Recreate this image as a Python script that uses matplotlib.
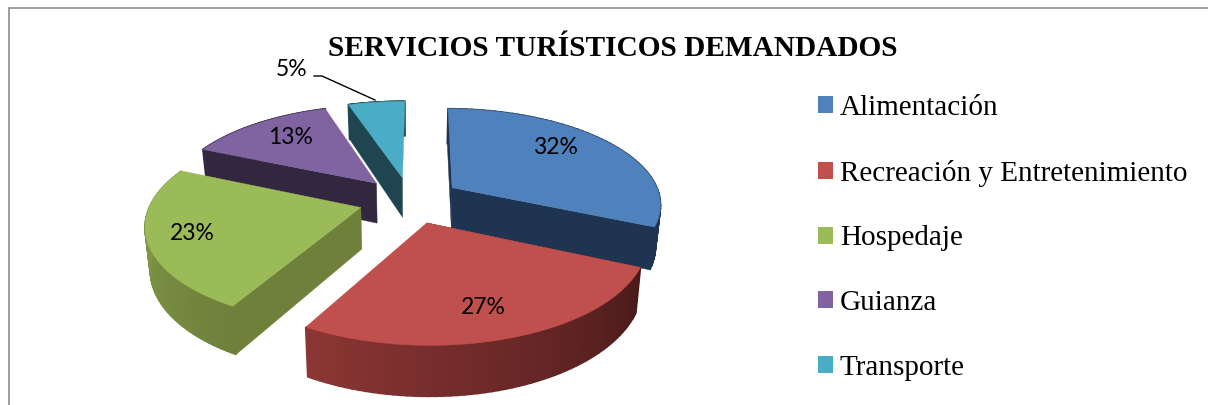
import numpy as np
import matplotlib
matplotlib.use("Agg")
import matplotlib.pyplot as plt
from matplotlib.patches import Polygon, Patch

categorias = ["Alimentación", "Recreación y Entretenimiento", "Hospedaje", "Guianza", "Transporte"]
valores = [31.5, 26.5, 23.4, 13.4, 5.2]
etiquetas = ["32%", "27%", "23%", "13%", "5%"]
colores = ["#4f81bd", "#c0504d", "#9bbb59", "#8064a2", "#4bacc6"]
cara_corte = ["#1f3450", "#4a1a1a", "#6e803a", "#33263f", "#1f4650"]
pared_ini = ["#1f3450", "#8b3634", "#87a34c", "#33263f", "#1f4650"]
pared_fin = ["#1f3450", "#4a1a1a", "#6e803a", "#33263f", "#1f4650"]
titulo = "SERVICIOS TURÍSTICOS DEMANDADOS"

# parametros de la perspectiva (en pixeles de la figura)
X0, Y0 = 410, 200
ESC_X, ESC_Y = 209, 95
PERSP = 0.158
EXPL = 0.245
ALTO = 41
ENCOGE = 0.98
INICIO = np.radians(0.5)


def proyectar(wx, wy):
    p = 1 / (1 + PERSP * wy)
    return X0 + ESC_X * wx * p, Y0 - ESC_Y * wy * p


def base(wx, wy):
    p = 1 / (1 + PERSP * wy)
    x, y = proyectar(wx, wy)
    return X0 + (x - X0) * ENCOGE, y + ALTO * p


def dibujar_porcion(ax, t0, t1, i):
    mid = (t0 + t1) / 2
    ox, oy = EXPL * np.sin(mid), EXPL * np.cos(mid)
    th = np.linspace(t0, t1, 60)
    wx, wy = ox + np.sin(th), oy + np.cos(th)
    # caras laterales: solo las que se ven de frente
    visibles = (t0, t1) if i == 0 else (t0,)
    for t in visibles:
        ex, ey = ox + np.sin(t), oy + np.cos(t)
        pts = [proyectar(ox, oy), proyectar(ex, ey), base(ex, ey), base(ox, oy)]
        ax.add_patch(Polygon(pts, closed=True, fc=cara_corte[i], ec=cara_corte[i], lw=0.3))
    # pared exterior con degradado
    c0 = np.array(matplotlib.colors.to_rgb(pared_ini[i]))
    c1 = np.array(matplotlib.colors.to_rgb(pared_fin[i]))
    for k in range(len(th) - 1):
        f = k / (len(th) - 2)
        col = c1 + (c0 - c1) * f
        pts = [proyectar(wx[k], wy[k]), proyectar(wx[k + 1], wy[k + 1]),
               base(wx[k + 1], wy[k + 1]), base(wx[k], wy[k])]
        ax.add_patch(Polygon(pts, closed=True, fc=col, ec=col, lw=1.2))
    # tapa
    xs, ys = proyectar(np.r_[ox, wx], np.r_[oy, wy])
    ax.add_patch(Polygon(np.c_[xs, ys], closed=True, fc=colores[i], ec=colores[i], lw=0.3))


fig = plt.figure(figsize=(12.08, 4.05), dpi=100)
ax = fig.add_axes([0, 0, 1, 1])
ax.set_xlim(0, 1208)
ax.set_ylim(405, 0)
ax.axis("off")

fracs = np.array(valores) / sum(valores)
fin = np.cumsum(fracs) * 2 * np.pi + INICIO
ini = np.r_[INICIO, fin[:-1]]

for i in [4, 3, 0, 2, 1]:
    dibujar_porcion(ax, ini[i], fin[i], i)

# marco del grafico
ax.plot([9, 9, 1208], [405, 8, 8], color="#8c8c8c", lw=1.2, solid_joinstyle="miter")

ax.text(613, 49, titulo, family="Liberation Serif", weight="bold", fontsize=21.2,
        ha="center", va="center", color="black")

pos_etq = [(555, 147), (483, 307), (192, 233), (291, 138), (292, 69)]
for txt, (x, y) in zip(etiquetas, pos_etq):
    ax.text(x, y, txt, family="Lato", fontsize=16.5, ha="center", va="center", color="black")

# linea guia del 5%
ax.plot([314, 322, 375], [76, 76, 100], color="black", lw=1)

handles = [Patch(fc=c, ec="none") for c in colores]
fig.legend(handles, categorias, loc="upper left", bbox_to_anchor=(0.677, 0.765), frameon=False,
           prop={"family": "Liberation Serif", "size": 21}, labelspacing=1.325,
           handlelength=0.514, handleheight=0.514, handletextpad=0.24, borderpad=0, borderaxespad=0)

fig.savefig("out.png", dpi=100)
